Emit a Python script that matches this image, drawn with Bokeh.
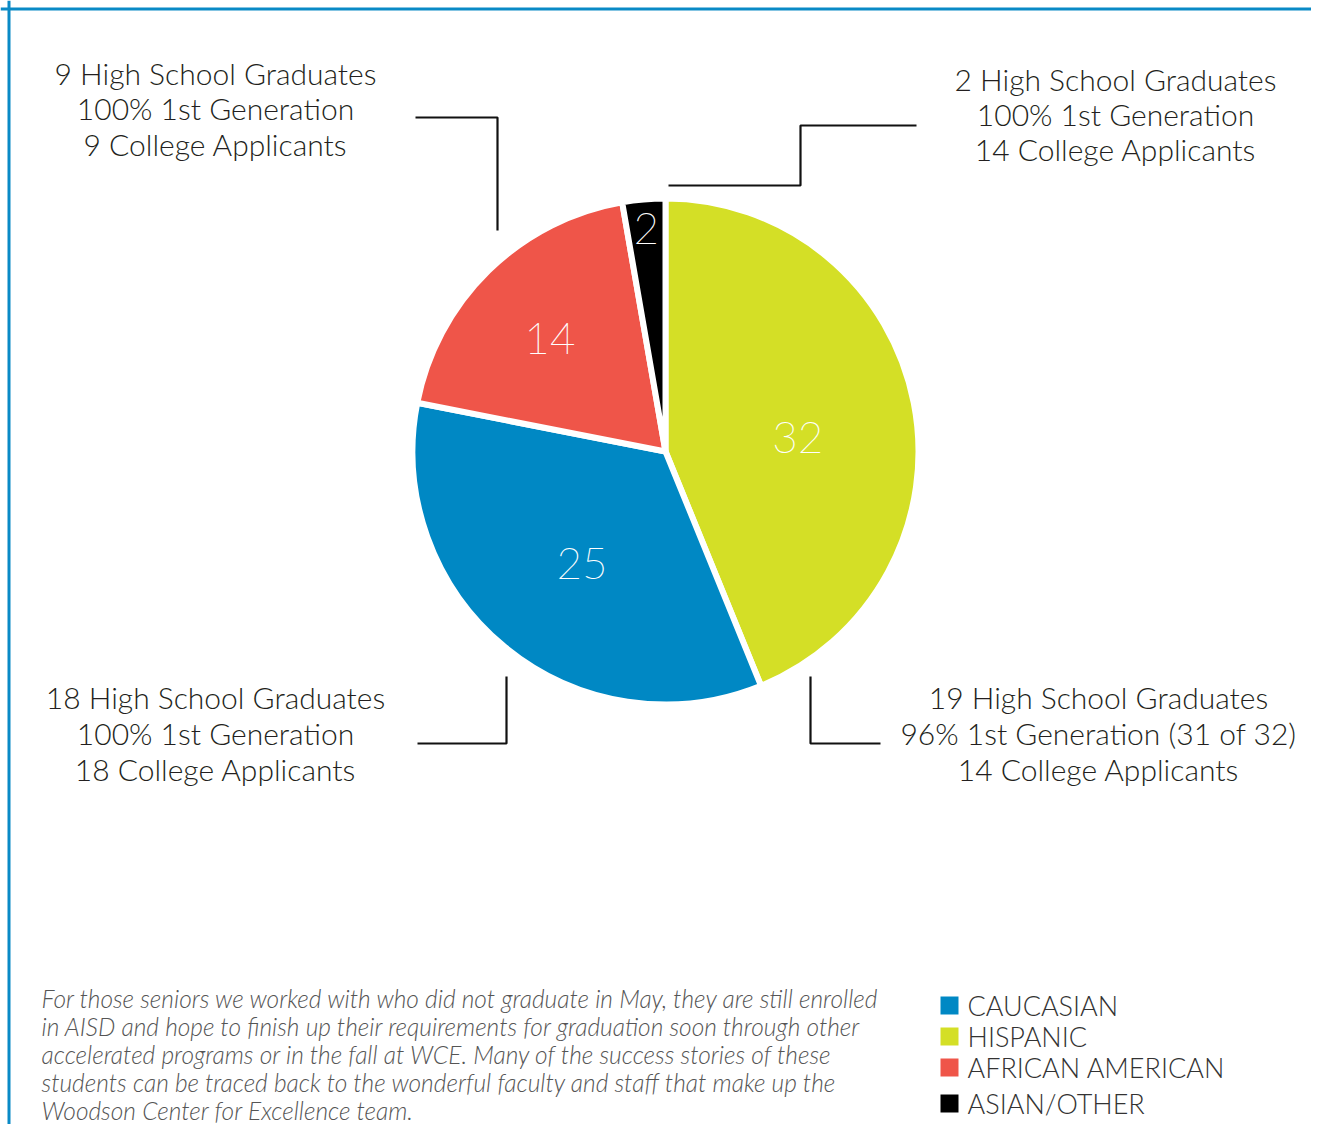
import math
from bokeh.plotting import figure
from bokeh.models import Range1d, Span
from bokeh.embed import file_html
from bokeh.resources import INLINE
from bokeh.core.properties import value

# ---------------- data ----------------
categories = ["Hispanic", "Caucasian", "African American", "Asian/Other"]
counts = [32, 25, 14, 2]
colors = ["#D4DF26", "#0088C4", "#EF5549", "#000000"]

legend_labels = ["CAUCASIAN", "HISPANIC", "AFRICAN AMERICAN", "ASIAN/OTHER"]
legend_colors = ["#0088C4", "#D4DF26", "#EF5549", "#000000"]

callout_tl = ["9 High School Graduates", "100% 1st Generation", "9 College Applicants"]
callout_tr = ["2 High School Graduates", "100% 1st Generation", "14 College Applicants"]
callout_bl = ["18 High School Graduates", "100% 1st Generation", "18 College Applicants"]
callout_br = ["19 High School Graduates", "96% 1st Generation (31 of 32)", "14 College Applicants"]

footnote = [
    "For those seniors we worked with who did not graduate in May, they are still enrolled",
    "in AISD and hope to finish up their requirements for graduation soon through other",
    "accelerated programs or in the fall at WCE.  Many of the success stories of these",
    "students can be traced back to the wonderful faculty and staff that make up the",
    "Woodson Center for Excellence team.",
]

# ---------------- layout ----------------
W, H = 1311, 1124
def Y(ys):
    return H - ys

FONT = value("'Lato Light', Lato")
THIN = value("'Lato Thin', 'Lato Light', Lato")
TEXT_COLOR = "#231F20"
BLUE = "#0A8AC6"

p = figure(width=W, height=H, x_range=Range1d(0, W), y_range=Range1d(0, H),
           output_backend="svg", toolbar_location=None, min_border=0)
p.axis.visible = False
p.grid.visible = False
p.outline_line_color = None
p.background_fill_color = "white"
p.border_fill_color = "white"

# frame lines (top and left)
p.add_layout(Span(location=Y(8.5), dimension="width", line_color=BLUE, line_width=3))
p.add_layout(Span(location=8.5, dimension="height", line_color=BLUE, line_width=3))

# pie
cx, cy, R = 665, Y(451), 253
total = sum(counts)
starts, ends, mids = [], [], []
cum = 0
for c in counts:
    a0 = math.pi / 2 - 2 * math.pi * cum / total
    cum += c
    a1 = math.pi / 2 - 2 * math.pi * cum / total
    starts.append(a0)
    ends.append(a1)
    mids.append((a0 + a1) / 2)

p.wedge(x=cx, y=cy, radius=R, start_angle=starts, end_angle=ends, direction="clock",
        fill_color=colors, line_color="white", line_width=6)

label_r = [133, 140, 162, 224]
label_da = [-0.09, 0.05, 0.02, 0.0]
lx = [cx + r * math.cos(m + d) for r, m, d in zip(label_r, mids, label_da)]
ly = [cy + r * math.sin(m + d) for r, m, d in zip(label_r, mids, label_da)]
p.text(x=lx, y=ly, text=[str(c) for c in counts], text_font=THIN, text_font_size="44px",
       text_color="white", text_align="center", text_baseline="middle")

# callouts
def callout(lines, xc, ys_list, size="30px"):
    p.text(x=[xc] * len(lines), y=[Y(v - 3) for v in ys_list], text=lines, text_font=FONT,
           text_font_size=size, text_color=TEXT_COLOR, text_align="center",
           text_baseline="middle")

callout(callout_tl, 215, [75, 110, 146])
callout(callout_tr, 1115, [81, 116, 151])
callout(callout_bl, 215, [699, 735, 771])
callout(callout_br, 1098, [699, 735, 771])

# connector lines
conn_x = [[415, 497, 497], [916, 800, 800, 668], [506, 506, 417], [810, 810, 880]]
conn_y = [[Y(117), Y(117), Y(230)], [Y(125), Y(125), Y(185), Y(185)],
          [Y(676), Y(743), Y(743)], [Y(676), Y(743), Y(743)]]
p.multi_line(xs=conn_x, ys=conn_y, line_color="#111111", line_width=2.2)

# footnote
p.text(x=[41] * len(footnote), y=[Y(998 + 28 * i) for i in range(len(footnote))],
       text=footnote, text_font=FONT, text_font_style="italic", text_font_size="24.5px",
       text_color="#555555", text_align="left", text_baseline="middle")

# legend
leg_y = [Y(v) for v in [1005, 1036, 1067, 1103]]
p.rect(x=[949] * 4, y=leg_y, width=18, height=18, fill_color=legend_colors, line_color=None)
p.text(x=[967] * 4, y=leg_y, text=legend_labels, text_font=FONT, text_font_size="27px",
       text_color="#333333", text_align="left", text_baseline="middle")

open("out.html", "w").write(file_html(p, INLINE))
